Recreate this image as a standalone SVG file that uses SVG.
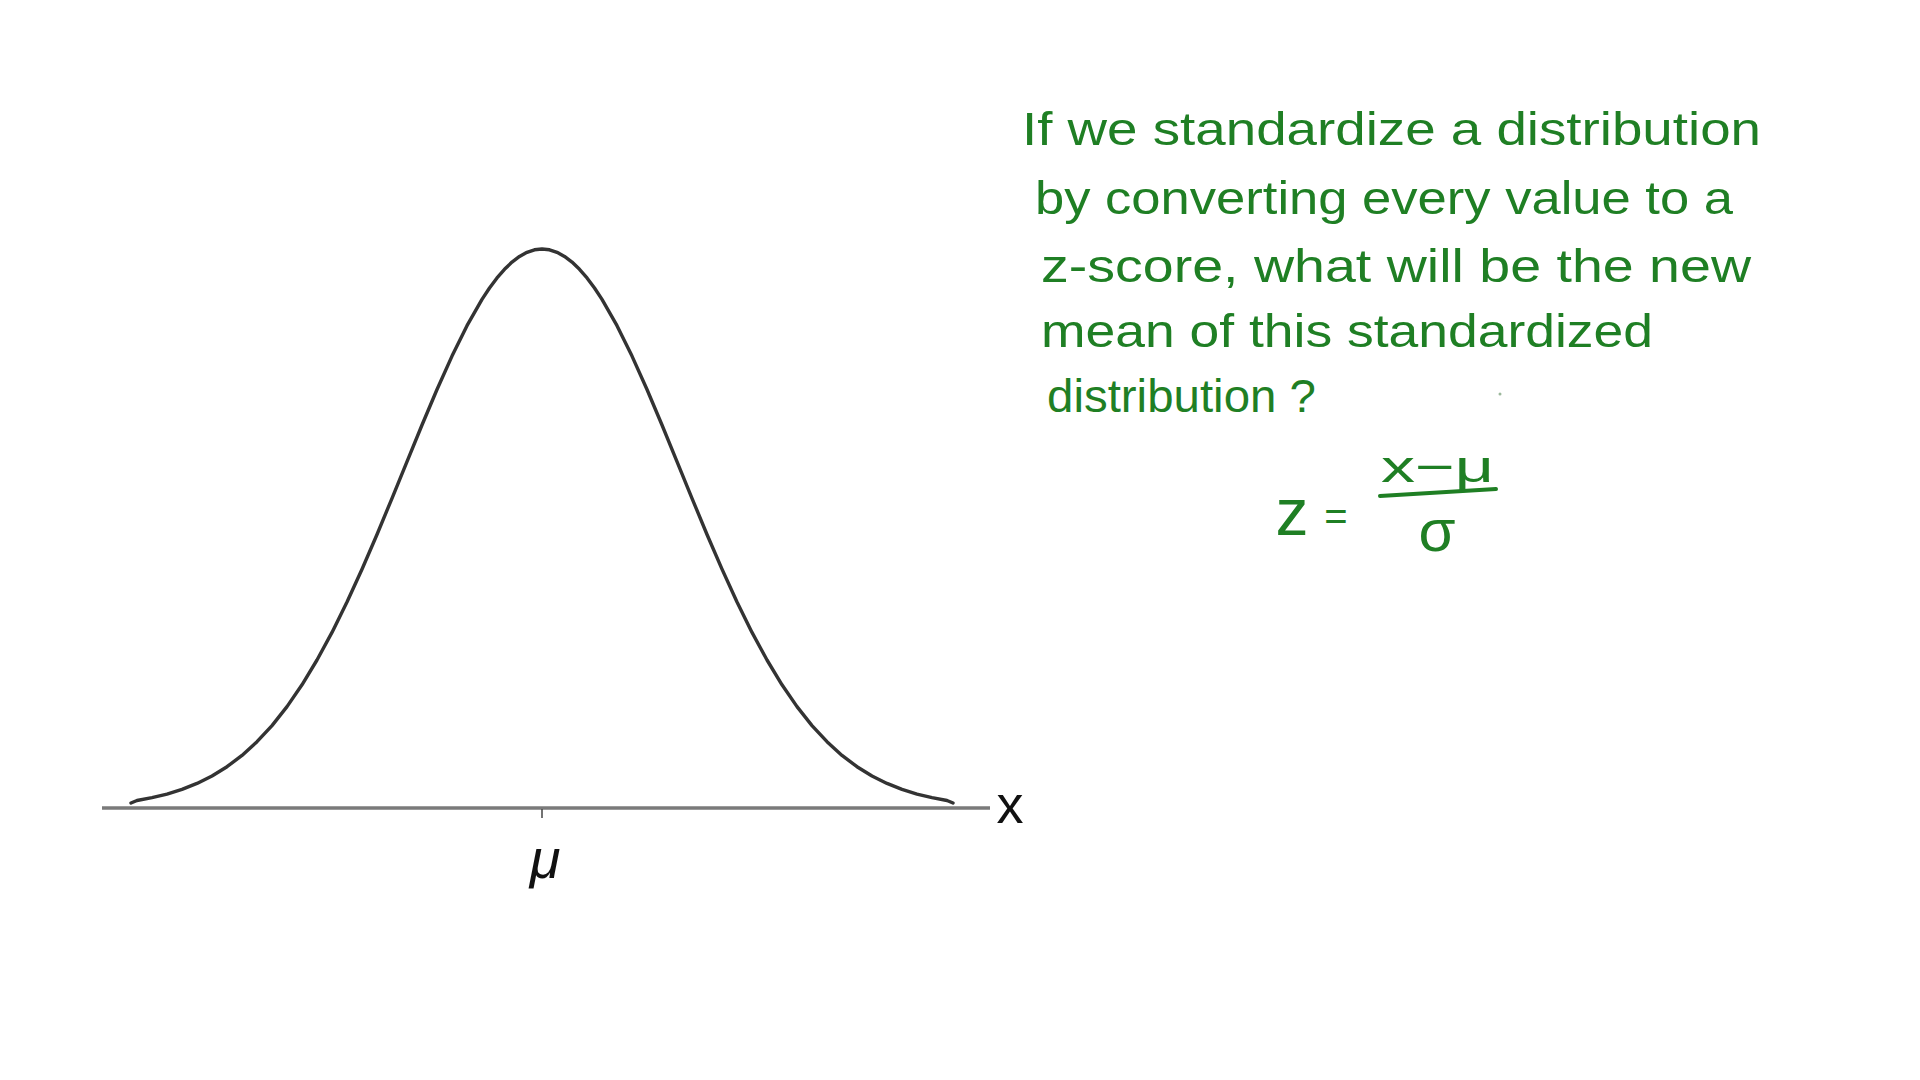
<svg xmlns="http://www.w3.org/2000/svg" width="1920" height="1080" viewBox="0 0 1920 1080">
  <style>
    .hand { font-family: "Liberation Sans", "DejaVu Sans", sans-serif; fill: #1f7f24; }
    .q { font-size: 46px; }
    .ink { font-family: "Liberation Sans", "DejaVu Sans", sans-serif; fill: #111; }
  </style>
  <rect x="0" y="0" width="1920" height="1080" fill="#ffffff"/>
  <g id="plot">
    <line id="axis" x1="102" y1="808" x2="990" y2="808" stroke="#7a7a7a" stroke-width="3.5"/>
    <line id="tick" x1="542" y1="809" x2="542" y2="818" stroke="#444" stroke-width="1.5"/>
    <polyline id="curve" fill="none" stroke="#333" stroke-width="3.4" stroke-linejoin="round" stroke-linecap="round"
      points="131,803 137,800.5 152,797.7 167,794.1 182,789.4 197,783.4 212,776 227,766.7 242,755.4 257,741.7 272,725.6 287,706.6 302,684.8 317,660 332,632.4 347,602 362,569.2 377,534.5 392,498.3 407,461.6 422,425 437,389.5 452,356.1 467,325.7 482,299.4 489.5,288 497,277.9 504.5,269.3 512,262.1 519.5,256.4 527,252.3 534.5,249.8 542,249 549.5,249.8 557,252.3 564.5,256.4 572,262.1 579.5,269.3 587,277.9 594.5,288 602,299.4 617,325.7 632,356.1 647,389.5 662,425 677,461.6 692,498.3 707,534.5 722,569.2 737,602 752,632.4 767,660 782,684.8 797,706.6 812,725.6 827,741.7 842,755.4 857,766.7 872,776 887,783.4 902,789.4 917,794.1 932,797.7 947,800.5 953,803"/>
    <text id="mu-label" class="ink" x="545" y="878" font-size="56" font-style="italic" text-anchor="middle">μ</text>
    <text id="x-label" class="ink" x="1010" y="823" font-size="54" text-anchor="middle">x</text>
  </g>
  <g id="question">
    <text class="hand q" x="1022" y="145" textLength="739" lengthAdjust="spacingAndGlyphs">If we standardize a distribution</text>
    <text class="hand q" x="1035" y="214" textLength="698" lengthAdjust="spacingAndGlyphs">by converting every value to a</text>
    <text class="hand q" x="1041" y="282" textLength="710" lengthAdjust="spacingAndGlyphs">z-score, what will be the new</text>
    <text class="hand q" x="1041" y="347" textLength="612" lengthAdjust="spacingAndGlyphs">mean of this standardized</text>
    <text class="hand q" x="1047" y="412" textLength="269" lengthAdjust="spacingAndGlyphs">distribution ?</text>
    <circle cx="1500" cy="394" r="1.5" fill="#9bb89b"/>
  </g>
  <g id="formula">
    <text class="hand" x="1292" y="535" font-size="66" text-anchor="middle">z</text>
    <text class="hand" x="1336" y="530" font-size="40" text-anchor="middle">=</text>
    <text class="hand" x="1381" y="482" font-size="44" textLength="113" lengthAdjust="spacingAndGlyphs">x−μ</text>
    <line x1="1380" y1="496" x2="1496" y2="489" stroke="#1f7f24" stroke-width="4" stroke-linecap="round"/>
    <text class="hand" x="1437" y="551" font-size="60" text-anchor="middle">σ</text>
  </g>
</svg>
